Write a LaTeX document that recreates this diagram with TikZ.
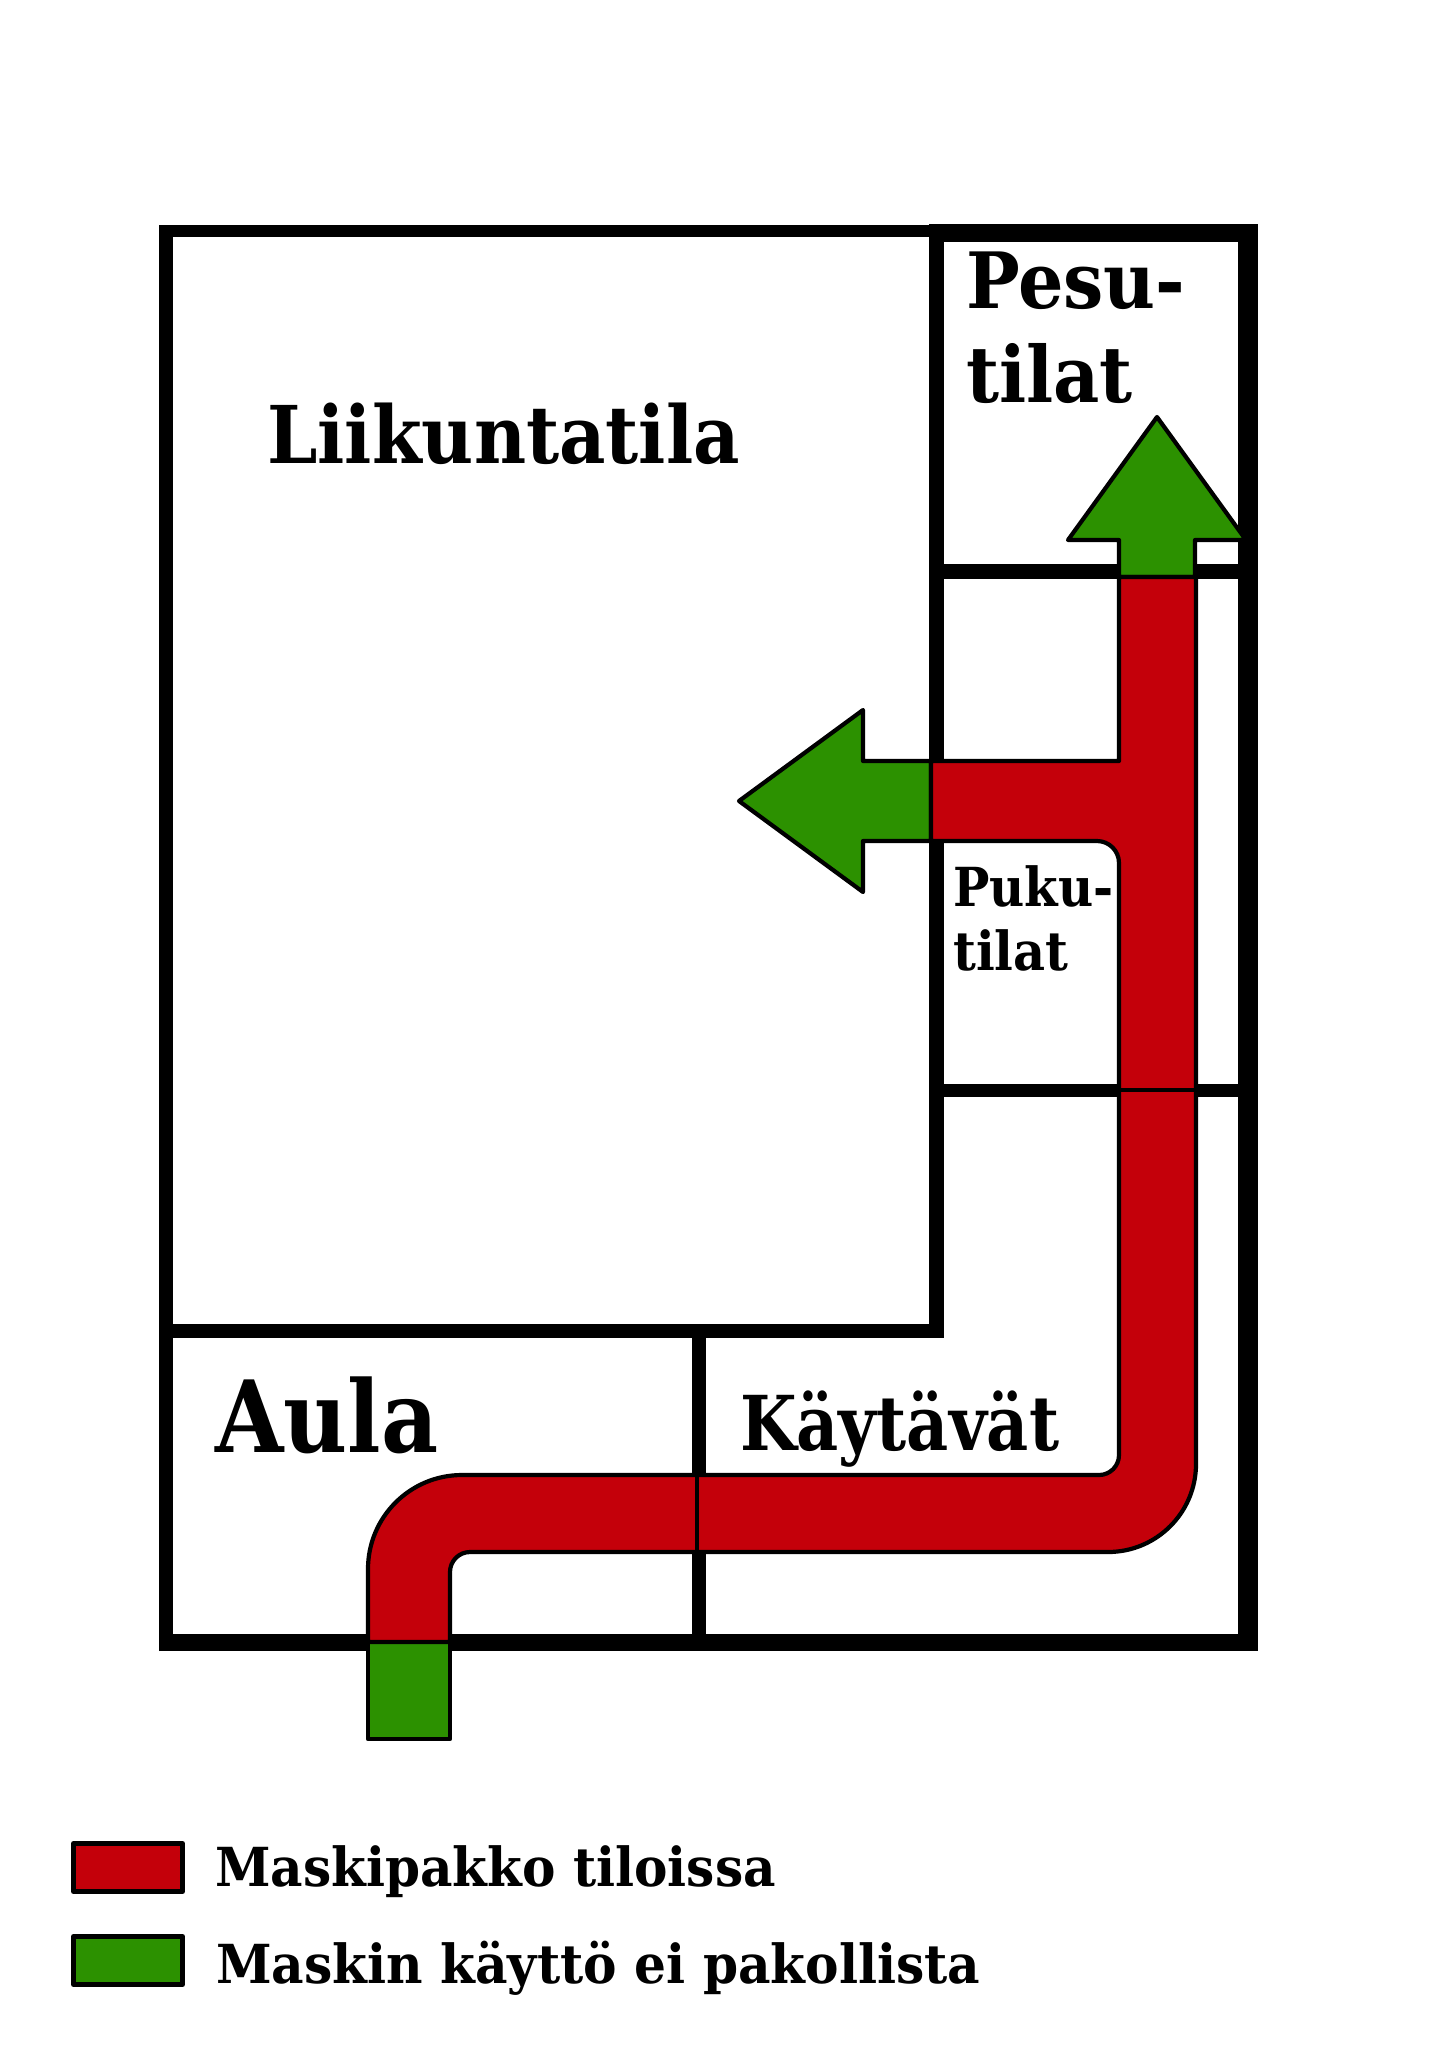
\documentclass[tikz,border=0pt]{standalone}
\usepackage{fontspec}
\usepackage{graphicx}
\setmainfont{DejaVu Serif}
\definecolor{maskred}{HTML}{C4000A}
\definecolor{maskgreen}{HTML}{2C9100}
\tikzset{
  wall/.style={draw=black,line cap=butt},
  zone/.style={draw=black,line width=4.2bp,line join=round},
  seam/.style={draw=black,line width=4bp},
  lbl/.style={anchor=base west,inner sep=0pt},
  legendbox/.style={draw=black,line width=5bp,line join=round},
}
\newcommand{\fs}[1]{\fontsize{#1}{#1}\selectfont}
\newcommand{\sx}[2]{\scalebox{#1}[1]{#2}}
\begin{document}
\begin{tikzpicture}[x=1bp,y=-1bp]
\useasboundingbox (0,0) rectangle (1448,2048);
\fill[white] (0,0) rectangle (1448,2048);
% walls
\draw[wall,line width=14bp] (166,1651) -- (166,225);
\draw[wall,line width=12bp] (159,231) -- (944,231);
\draw[wall,line width=18bp] (929,233) -- (1258,233);
\draw[wall,line width=20bp] (1248,224) -- (1248,1651);
\draw[wall,line width=17bp] (159,1642) -- (1258,1642);
\draw[wall,line width=14.5bp] (936.5,233) -- (936.5,1338);
\draw[wall,line width=14bp] (159,1331) -- (944,1331);
\draw[wall,line width=14bp] (699,1331) -- (699,1642);
\draw[wall,line width=15bp] (936,571) -- (1248,571);
\draw[wall,line width=13bp] (936,1090) -- (1248,1090);
% green parts
\draw[zone,fill=maskgreen] (1119,577) -- (1119,540) -- (1068,540) -- (1157,417) -- (1246,540) -- (1195,540) -- (1195,577) -- cycle;
\draw[zone,fill=maskgreen] (931,761) -- (863,761) -- (863,710) -- (739,801) -- (863,892) -- (863,841) -- (931,841) -- cycle;
\draw[zone,fill=maskgreen] (368,1642) rectangle (450,1739);
% red route
\draw[zone,fill=maskred] (1119,577) -- (1196,577) [rounded corners=88bp] -- (1196,1552)
  [rounded corners=20bp] -- (450,1552) [sharp corners] -- (450,1642) -- (368,1642)
  [rounded corners=94bp] -- (368,1475) [rounded corners=20bp] -- (1119,1475)
  [rounded corners=22bp] -- (1119,841) [sharp corners] -- (931,841) -- (931,761) -- (1119,761) -- cycle;
\draw[seam] (1119,1090) -- (1196,1090);
\draw[seam] (697,1475) -- (697,1552);
% labels
\node[lbl,font=\bfseries\fs{80}] (liikunta) at (267,463) {\sx{.90}{Liikuntatila}};
\node[lbl,font=\bfseries\fs{78}] (pesu) at (966,308) {\sx{.92}{Pesu-}};
\node[lbl,font=\bfseries\fs{78}] (pesutilat) at (966,402) {\sx{.92}{tilat}};
\node[lbl,font=\bfseries\fs{54}] (puku) at (953,906) {\sx{.90}{Puku-}};
\node[lbl,font=\bfseries\fs{54}] (pukutilat) at (953,970) {\sx{.92}{tilat}};
\node[lbl,font=\bfseries\fs{100}] (aula) at (215,1452) {\sx{.885}{Aula}};
\node[lbl,font=\bfseries\fs{76}] (kaytavat) at (740,1450) {\sx{.86}{Käytävät}};
% legend
\draw[legendbox,fill=maskred] (73.5,1843.5) rectangle (182.5,1891.5);
\draw[legendbox,fill=maskgreen] (73.5,1936.5) rectangle (182.5,1984.5);
\node[lbl,font=\bfseries\fs{54}] (legred) at (215,1886) {\sx{.932}{Maskipakko tiloissa}};
\node[lbl,font=\bfseries\fs{54}] (leggreen) at (216,1983) {\sx{.934}{Maskin käyttö ei pakollista}};
\end{tikzpicture}
\end{document}
